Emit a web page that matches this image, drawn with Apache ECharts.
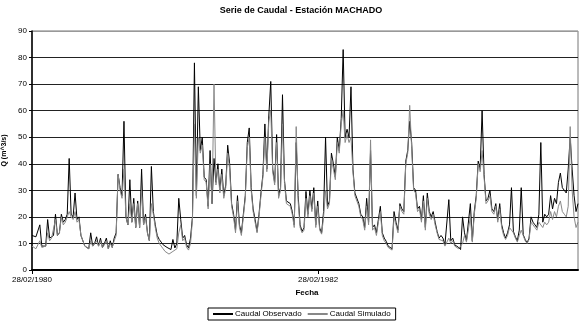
<!DOCTYPE html>
<html>
<head>
<meta charset="utf-8">
<script src="https://cdn.jsdelivr.net/npm/echarts@6/dist/echarts.min.js"></script>
<style>
  html, body { margin: 0; padding: 0; background: #fff; }
  #chart { width: 580px; height: 321px; }
</style>
</head>
<body>
<div id="chart"></div>
<script>
// one value every 5 days, starting 28/02/1980
const stepDays = 5;
const xTickDays = [0, 731];
const xTickLabels = ['28/02/1980', '28/02/1982'];
const yTicks = [0, 10, 20, 30, 40, 50, 60, 70, 80, 90];

const observado = [
  13, 13, 12.5, 12, 17, 9, 8.5, 9, 19, 12,
  12, 13, 21, 13, 14, 21, 18, 19, 21, 42,
  21, 20, 29, 19, 20, 13, 11, 9, 8.5, 8,
  14, 9, 10, 12.5, 9, 12, 8.5, 10, 12, 8,
  11, 8.5, 12, 14, 36, 31, 28, 56, 20, 17,
  34, 18, 27, 16, 26, 16, 38, 17, 21, 14,
  11, 39, 22, 17, 13, 11.5, 10.5, 9.5, 9, 8.5,
  8.3, 7.7, 11.5, 8.3, 10, 27, 19, 12, 13, 9.5,
  8.3, 12, 20, 78, 28, 69, 45, 50, 35, 34,
  24, 45, 25, 42, 33, 40, 30, 38, 28, 32,
  47, 40, 25, 21, 15, 28, 17, 14, 21, 28,
  48, 53.5, 31, 23, 19, 14.5, 21, 29, 36, 55,
  38, 58, 71, 38, 33, 51, 28, 31, 66, 34,
  26, 26, 25, 22, 17, 48, 28, 17, 14.5, 16,
  29.6, 21, 30, 23, 31, 17, 26, 15.8, 14, 22,
  50, 24, 26, 44, 40, 35, 50, 45, 57, 83,
  50, 53, 50, 69, 38, 29, 29, 25, 21, 20,
  16, 27, 18, 45, 16, 17, 14, 19, 24, 14,
  12, 10.8, 9, 9, 8, 22, 18, 15, 25, 23,
  22, 41, 45, 56, 48, 31, 30, 23, 24, 19,
  28, 16, 29, 22, 20, 22, 18, 14.5, 12, 13,
  12, 9.5, 9, 26.5, 11, 12, 9.5, 9, 8.5, 7.7,
  20, 14, 11, 11, 25, 11, 22, 28, 41, 38,
  60, 36, 26, 27, 30, 23, 22, 25, 19, 25,
  17, 14, 12, 14, 17, 31, 14.5, 12.5, 11, 15,
  31, 13.3, 11.5, 10.2, 12, 20, 18, 17, 16, 21,
  48, 18, 21, 20, 21, 28, 23, 27, 25, 33,
  36.5, 31, 30, 29, 38, 50, 38, 28, 22, 25
];

const simulado = [
  9, 8.5, 8, 8, 11, 8.5, 8, 9, 14, 11,
  12, 12, 19, 13, 14, 20, 17, 18, 20, 22,
  20, 19, 22, 18, 19, 13, 11, 9, 8.5, 8,
  11, 9, 10, 11, 9, 11, 8.5, 9.5, 11, 8,
  10, 8.5, 11, 13, 36, 30, 27, 38, 20, 17,
  25, 18, 25, 16, 25, 16, 30, 17, 20, 14,
  11, 25, 21, 16, 12, 10, 9, 8, 7, 6.5,
  6, 6, 7, 7, 8, 14, 17, 11, 12, 8.5,
  7.5, 10, 19, 55, 27, 50, 44, 47, 34, 33,
  23, 40, 25, 70, 32, 38, 29, 36, 27, 31,
  44, 38, 24, 20, 14, 26, 16, 13, 20, 27,
  46, 50, 30, 22, 18, 14, 20, 28, 35, 50,
  37, 56, 60, 37, 32, 48, 27, 30, 55, 33,
  25, 25, 24, 21, 16, 54, 26, 16, 14, 15,
  27, 20, 28, 22, 29, 16, 24, 15, 13.5, 20,
  30, 23, 25, 42, 38, 34, 48, 44, 55, 60,
  48, 51, 48, 50, 37, 28, 28, 24, 20, 19,
  15, 24, 17, 49, 15, 16, 13, 18, 22, 13,
  11, 10, 8.5, 8, 7.5, 20, 17, 14, 24, 22,
  21, 40, 44, 62, 46, 30, 29, 22, 23, 18,
  26, 15, 27, 21, 19, 21, 17, 14, 11.5, 12,
  11, 9, 8.5, 12, 10, 11, 9, 8.5, 8, 7.5,
  10, 13, 10.5, 10.5, 20, 10.5, 21, 27, 40, 37,
  45, 35, 25, 26, 28, 22, 21, 24, 18, 23,
  16, 13, 11.5, 13, 16, 15, 14, 12, 10.5, 13,
  15, 13, 11, 10, 11.5, 18, 17, 16, 15, 18,
  18, 16, 18, 17, 18, 22, 19, 22, 20, 24,
  26, 22, 21, 20, 24, 54, 30, 20, 16, 18
];

const toPairs = vals => vals.map((v, i) => [i * stepDays, v]);
const maxDay = 1395;

const chart = echarts.init(document.getElementById('chart'), null, { renderer: 'canvas' });
const font = 'Liberation Sans, Arial, sans-serif';

chart.setOption({
  backgroundColor: '#fff',
  animation: false,
  title: {
    text: 'Serie de Caudal - Estación MACHADO',
    left: 296, top: 1, textAlign: 'center',
    textStyle: { fontFamily: font, fontSize: 9, fontWeight: 'bold', color: '#000' }
  },
  legend: {
    bottom: 1, left: 208,
    itemWidth: 20, itemHeight: 2, itemGap: 6,
    padding: [2, 5, 2, 5],
    borderColor: '#000', borderWidth: 1,
    icon: 'rect',
    textStyle: { fontFamily: font, fontSize: 8, color: '#000', padding: [0, 0, 0, -3] },
    data: ['Caudal Observado', 'Caudal Simulado']
  },
  grid: {
    left: 32, right: 2, top: 31, bottom: 51,
    outerBoundsMode: 'none', containLabel: false,
    show: true, borderColor: '#777', borderWidth: 1
  },
  xAxis: {
    type: 'value', min: 0, max: maxDay, interval: xTickDays[1],
    name: 'Fecha', nameLocation: 'middle', nameGap: 19,
    nameTextStyle: { fontFamily: font, fontSize: 8, fontWeight: 'bold', color: '#000', padding: [0, 0, 0, 4] },
    axisLine: { lineStyle: { color: '#000', width: 2 } },
    axisTick: { length: 4, lineStyle: { color: '#000' } },
    axisLabel: {
      fontFamily: font, fontSize: 8, color: '#000', margin: 6,
      showMaxLabel: false,
      formatter: v => {
        const k = xTickDays.indexOf(v);
        return k >= 0 ? xTickLabels[k] : '';
      }
    },
    splitLine: { show: false }
  },
  yAxis: {
    type: 'value', min: yTicks[0], max: yTicks[yTicks.length - 1], interval: 10,
    name: 'Q (m^3/s)', nameLocation: 'middle', nameGap: 22, nameRotate: 90,
    nameTextStyle: { fontFamily: font, fontSize: 7, fontWeight: 'bold', color: '#000' },
    axisLine: { show: true, lineStyle: { color: '#000', width: 1.5 } },
    axisTick: { show: true, length: 3, lineStyle: { color: '#000' } },
    axisLabel: { fontFamily: font, fontSize: 8, color: '#000', margin: 5 },
    splitLine: {
      lineStyle: {
        color: ['#000', '#222', '#222', '#222', '#222', '#222', '#222', '#222', '#222', '#999'],
        width: 1
      }
    }
  },
  series: [
    {
      name: 'Caudal Observado', type: 'line', data: toPairs(observado),
      showSymbol: false, symbol: 'none',
      itemStyle: { color: '#000' },
      lineStyle: { color: '#000', width: 1 }
    },
    {
      name: 'Caudal Simulado', type: 'line', data: toPairs(simulado),
      showSymbol: false, symbol: 'none',
      itemStyle: { color: '#888' },
      lineStyle: { color: '#888', width: 1 }
    }
  ]
});
</script>
</body>
</html>
